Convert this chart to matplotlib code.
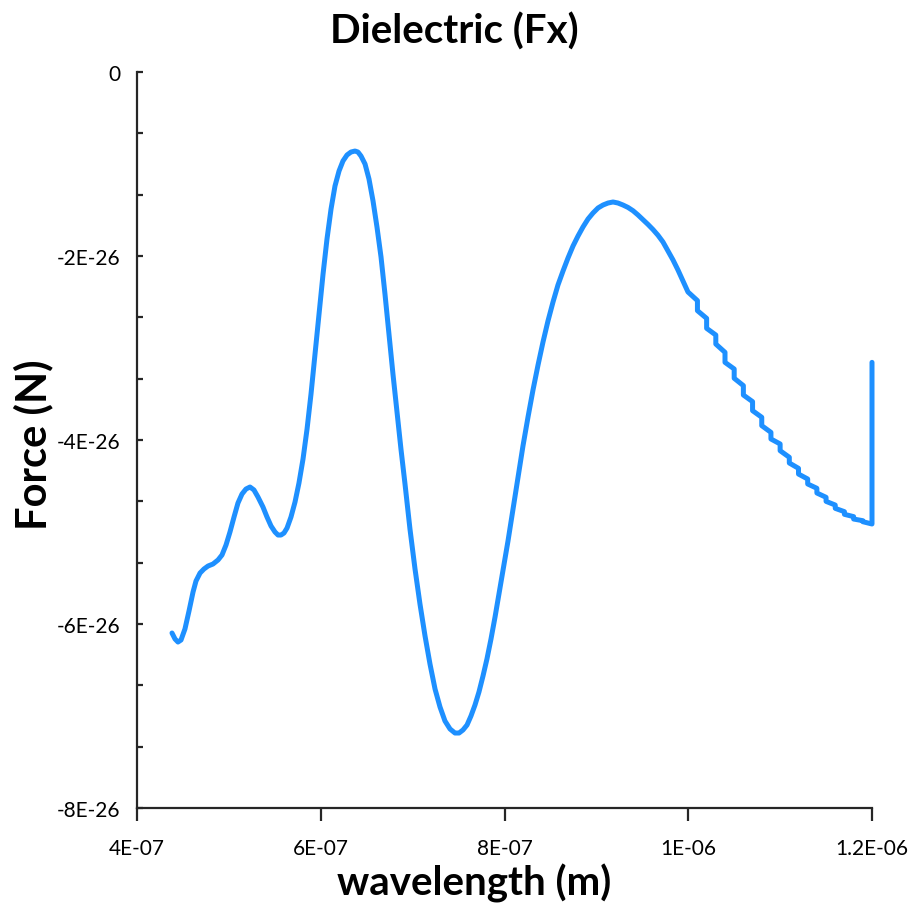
import numpy as np
import matplotlib.pyplot as plt
from matplotlib.ticker import FixedLocator, FixedFormatter

# wavelength in nm, force in units of 1E-26 N
wl_smooth = [438.1, 441.4, 444.6, 447.9, 452.2, 456.6, 461.0, 464.2, 468.6,
             472.9, 477.3, 482.7, 488.2, 492.5, 496.9, 501.2, 505.6, 509.9,
             514.3, 518.6, 523.0, 527.3, 531.7, 537.1, 541.5, 545.9, 550.2,
             553.5, 556.7, 560.0, 563.3, 567.6, 572.0, 576.3, 580.7, 585.1,
             589.4, 593.8, 598.1, 602.5, 606.8, 611.2, 615.5, 619.9, 624.2,
             628.6, 632.9, 637.3, 640.5, 643.8, 648.2, 652.5, 656.9, 661.2,
             665.6, 669.9, 674.3, 678.6, 683.0, 687.3, 691.7, 697.1, 702.6,
             708.0, 713.5, 718.9, 724.4, 729.8, 735.2, 740.7, 746.1, 750.5,
             754.8, 759.2, 763.5, 767.9, 772.2, 776.6, 780.9, 785.3, 789.7,
             794.0, 798.4, 803.8, 809.3, 814.7, 820.1, 825.6, 831.0, 836.5,
             841.9, 847.3, 852.8, 858.2, 863.7, 869.1, 874.6, 880.0, 885.4,
             890.9, 896.3, 901.8, 907.2, 912.7, 918.1, 923.5, 929.0, 934.4,
             939.9, 945.3, 950.7, 956.2, 961.6, 967.1, 972.5, 978.0, 983.4,
             988.8, 994.3, 999.7]
f_smooth = [-6.098, -6.163, -6.196, -6.174, -6.054, -5.859, -5.652, -5.533,
            -5.446, -5.402, -5.370, -5.348, -5.304, -5.250, -5.141, -5.000,
            -4.837, -4.685, -4.587, -4.533, -4.511, -4.543, -4.620, -4.728,
            -4.837, -4.935, -5.000, -5.033, -5.033, -5.011, -4.957, -4.837,
            -4.674, -4.467, -4.207, -3.880, -3.500, -3.065, -2.630, -2.196,
            -1.815, -1.489, -1.239, -1.076, -0.967, -0.902, -0.870, -0.859,
            -0.870, -0.913, -1.000, -1.163, -1.402, -1.685, -2.011, -2.413,
            -2.848, -3.283, -3.696, -4.098, -4.478, -4.967, -5.402, -5.783,
            -6.130, -6.435, -6.707, -6.902, -7.054, -7.141, -7.185, -7.185,
            -7.152, -7.098, -7.000, -6.880, -6.739, -6.565, -6.380, -6.163,
            -5.924, -5.674, -5.424, -5.098, -4.750, -4.402, -4.065, -3.750,
            -3.457, -3.185, -2.935, -2.707, -2.500, -2.315, -2.163, -2.022,
            -1.891, -1.783, -1.685, -1.598, -1.533, -1.478, -1.446, -1.424,
            -1.413, -1.424, -1.446, -1.472, -1.508, -1.554, -1.605, -1.657,
            -1.712, -1.775, -1.848, -1.946, -2.043, -2.152, -2.272, -2.391]

# staircase part: value just before and just after each 10 nm step
step_wl = [1010, 1020, 1030, 1040, 1050, 1060, 1070, 1080, 1090, 1100,
           1110, 1120, 1130, 1140, 1150, 1160, 1170, 1180, 1190]
step_top = [-2.485, -2.678, -2.859, -3.047, -3.228, -3.409, -3.583, -3.753,
            -3.917, -4.043, -4.188, -4.308, -4.424, -4.525, -4.623, -4.707,
            -4.779, -4.833, -4.877]
step_bot = [-2.594, -2.786, -2.957, -3.156, -3.329, -3.511, -3.681, -3.844,
            -3.989, -4.116, -4.250, -4.370, -4.478, -4.576, -4.667, -4.743,
            -4.808, -4.859, -4.888]
end_wl = [1200, 1200]
end_f = [-4.913, -3.156]

x_ticks = [4e-7, 6e-7, 8e-7, 1e-6, 1.2e-6]
x_labels = ['4E-07', '6E-07', '8E-07', '1E-06', '1.2E-06']
y_ticks = [0, -2e-26, -4e-26, -6e-26, -8e-26]
y_labels = ['0', '-2E-26', '-4E-26', '-6E-26', '-8E-26']

x = list(wl_smooth)
y = list(f_smooth)
for w, a, b in zip(step_wl, step_top, step_bot):
    x += [w, w]
    y += [a, b]
x += end_wl
y += end_f

x = np.array(x) * 1e-9
y = np.array(y) * 1e-26

plt.rcParams['font.family'] = ['Lato', 'DejaVu Sans']

fig = plt.figure(figsize=(9.11, 9.12), dpi=100)
ax = fig.add_axes([137 / 911, 1 - 809 / 912, (872 - 137) / 911, (809 - 73) / 912])
ax.plot(x, y, color='#1E90FF', lw=3.6, solid_joinstyle='round',
        solid_capstyle='round', clip_on=False)

ax.set_xlim(4e-7, 1.2e-6)
ax.set_ylim(-8e-26, 0)
ax.spines['top'].set_visible(False)
ax.spines['right'].set_visible(False)
for s in ['left', 'bottom']:
    ax.spines[s].set_linewidth(1.6)
    ax.spines[s].set_color('#262626')

ax.xaxis.set_major_locator(FixedLocator(x_ticks))
ax.xaxis.set_major_formatter(FixedFormatter(x_labels))
ax.yaxis.set_major_locator(FixedLocator(y_ticks))
ax.yaxis.set_major_formatter(FixedFormatter(y_labels))
ax.yaxis.set_minor_locator(FixedLocator(np.linspace(-8e-26, 0, 13)))

ax.tick_params(axis='x', direction='out', length=9.5, width=1.6, color='#262626',
               labelsize=15, pad=12)
ax.tick_params(axis='y', which='both', direction='in', length=4.5, width=1.6,
               color='#262626', labelsize=15, pad=12)

fig.text(454 / 911, 1 - 32 / 912, 'Dielectric (Fx)', ha='center', va='center',
         fontsize=29, fontweight='bold')
fig.text(474 / 911, 1 - 896 / 912, 'wavelength (m)', ha='center', va='baseline',
         fontsize=29, fontweight='bold')
fig.text(33 / 911, 1 - 445 / 912, 'Force (N)', ha='center', va='center',
         rotation=90, fontsize=30, fontweight='bold')

fig.savefig('out.png', dpi=100)
